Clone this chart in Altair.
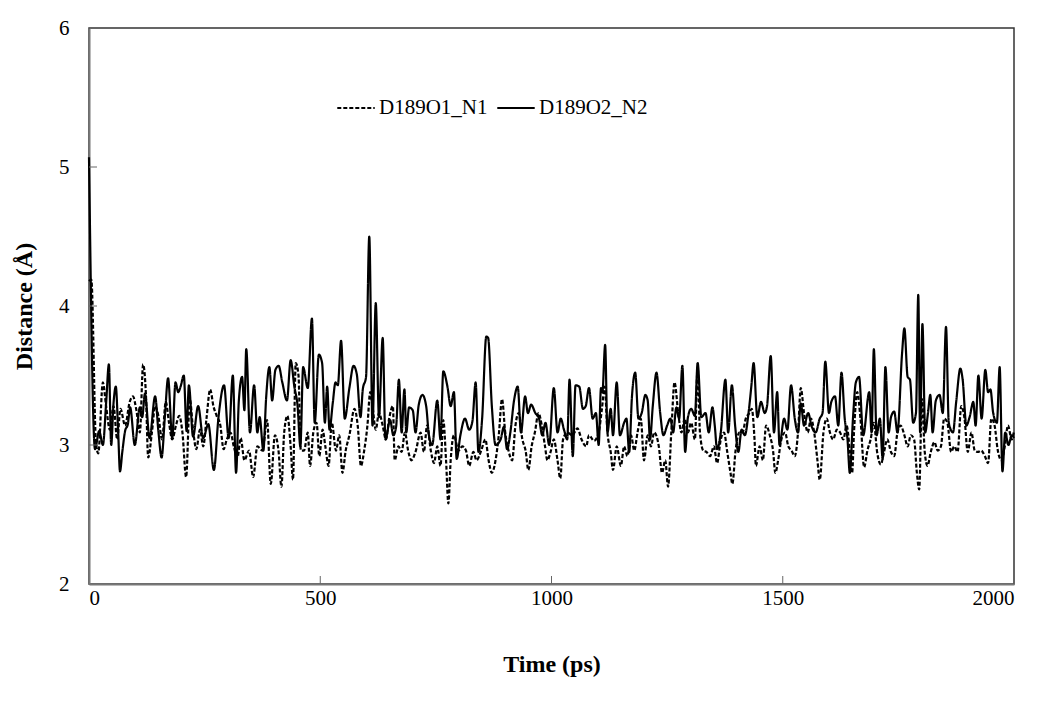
import altair as alt
import pandas as pd

series_names = ["D189O1_N1", "D189O2_N2"]

# D189O1_N1 (dashed)
t1 = [0, 5, 15, 20, 30, 37, 45, 53, 61, 68, 78, 88, 95, 102, 110, 117, 123, 128, 136, 143, 150, 158, 166, 173, 180, 188, 195, 202, 210, 218, 225, 232, 240, 247, 254, 262, 269, 276, 284, 291, 298, 306, 313, 321, 328, 336, 346, 355, 364, 375, 385, 393, 402, 410, 416, 422, 429, 436, 441, 447, 453, 458, 465, 473, 478, 485, 492, 498, 505, 511, 518, 525, 534, 541, 548, 555, 563, 574, 581, 588, 595, 602, 608, 613, 620, 627, 635, 642, 649, 657, 661, 669, 676, 683, 690, 697, 706, 717, 724, 731, 739, 746, 753, 760, 766, 772, 777, 782, 789, 799, 807, 815, 822, 831, 838, 848, 857, 864, 871, 879, 886, 893, 900, 907, 915, 922, 929, 937, 944, 950, 957, 964, 972, 979, 986, 991, 998, 1005, 1013, 1019, 1025, 1034, 1045, 1056, 1065, 1075, 1081, 1092, 1102, 1109, 1115, 1121, 1128, 1133, 1141, 1150, 1157, 1164, 1172, 1179, 1186, 1193, 1200, 1208, 1215, 1222, 1232, 1239, 1246, 1252, 1259, 1266, 1274, 1281, 1288, 1295, 1302, 1310, 1316, 1321, 1328, 1335, 1343, 1351, 1358, 1366, 1373, 1380, 1387, 1391, 1398, 1406, 1413, 1420, 1428, 1433, 1439, 1442, 1450, 1457, 1464, 1472, 1479, 1484, 1490, 1497, 1505, 1512, 1519, 1526, 1533, 1539, 1546, 1554, 1561, 1568, 1575, 1580, 1588, 1595, 1602, 1609, 1617, 1624, 1631, 1638, 1645, 1650, 1654, 1661, 1668, 1676, 1683, 1690, 1697, 1704, 1712, 1719, 1726, 1734, 1741, 1748, 1755, 1763, 1770, 1777, 1784, 1790, 1795, 1801, 1807, 1813, 1820, 1828, 1835, 1842, 1849, 1856, 1864, 1871, 1878, 1886, 1893, 1900, 1908, 1915, 1922, 1929, 1937, 1944, 1951, 1958, 1965, 1973, 1980, 1987, 1995, 2000]
d1 = [4.18, 4.19, 3.02, 2.94, 3.45, 3.28, 3.11, 3.28, 3.04, 3.26, 3.14, 3.31, 3.35, 3.26, 3.09, 3.58, 3.37, 2.91, 3.09, 3.28, 3.21, 3.04, 3.31, 3.16, 3.04, 3.14, 3.21, 3.09, 2.77, 3.33, 3.11, 2.97, 3.11, 2.99, 3.19, 3.40, 3.28, 3.21, 3.14, 2.97, 3.04, 3.09, 2.99, 2.91, 3.05, 2.89, 2.96, 2.77, 2.99, 2.96, 3.18, 2.72, 3.07, 2.95, 2.70, 3.09, 3.21, 2.99, 2.75, 3.59, 3.50, 2.96, 2.96, 3.09, 2.85, 3.09, 3.16, 2.92, 3.11, 2.99, 2.85, 3.16, 2.96, 3.07, 2.80, 2.96, 3.07, 3.26, 3.14, 2.85, 2.96, 3.14, 3.38, 3.28, 3.11, 3.23, 3.14, 3.04, 3.19, 3.28, 2.89, 2.99, 2.95, 3.09, 2.96, 2.89, 2.95, 3.09, 2.95, 3.14, 2.96, 2.87, 2.99, 2.85, 3.18, 2.89, 2.58, 2.89, 3.07, 2.96, 2.99, 2.96, 2.85, 2.95, 2.89, 2.96, 3.04, 2.89, 2.80, 2.89, 3.07, 3.33, 3.09, 2.96, 2.89, 3.14, 3.23, 3.04, 2.96, 2.82, 2.99, 3.09, 3.23, 3.14, 2.99, 2.89, 2.95, 3.04, 2.89, 2.76, 3.04, 3.09, 3.07, 3.12, 3.04, 2.99, 3.07, 3.03, 3.09, 3.26, 3.42, 3.09, 2.95, 2.82, 2.99, 2.85, 2.99, 2.92, 3.07, 2.96, 3.09, 3.19, 2.89, 3.07, 2.99, 3.09, 2.99, 2.80, 2.89, 2.70, 3.09, 3.45, 3.23, 3.09, 3.19, 3.09, 3.16, 3.04, 3.56, 3.09, 2.96, 2.95, 2.92, 2.99, 2.87, 3.04, 3.09, 2.95, 2.80, 2.72, 2.96, 3.09, 3.09, 3.19, 3.23, 3.26, 3.04, 2.85, 2.99, 2.89, 3.14, 3.07, 2.96, 2.80, 2.89, 3.04, 3.09, 2.99, 2.96, 2.92, 3.09, 3.41, 3.23, 3.09, 3.19, 3.09, 2.89, 2.75, 3.09, 3.19, 3.09, 3.04, 3.11, 3.09, 3.04, 3.14, 2.96, 2.80, 3.09, 3.38, 3.19, 2.84, 2.96, 3.04, 3.16, 2.95, 2.86, 2.95, 3.04, 2.95, 2.92, 3.09, 3.14, 3.07, 2.99, 3.07, 3.04, 2.80, 2.68, 3.33, 2.95, 2.85, 2.95, 3.02, 2.96, 2.99, 3.19, 3.16, 2.95, 2.99, 2.95, 3.28, 3.19, 2.95, 3.09, 2.96, 2.95, 2.96, 2.92, 2.87, 3.19, 3.14, 2.96, 2.89, 2.99, 3.14, 3.04, 3.10]

# D189O2_N2 (solid)
t2 = [0, 13, 22, 30, 37, 43, 48, 53, 58, 63, 67, 72, 78, 84, 89, 99, 110, 115, 121, 131, 143, 150, 157, 164, 171, 180, 187, 193, 198, 205, 211, 216, 225, 236, 247, 258, 270, 280, 292, 302, 311, 318, 324, 331, 336, 340, 348, 357, 364, 369, 377, 383, 390, 396, 403, 410, 418, 428, 436, 444, 451, 457, 463, 473, 482, 488, 497, 504, 510, 515, 520, 527, 533, 538, 545, 553, 563, 572, 579, 587, 592, 599, 606, 613, 620, 627, 635, 641, 651, 658, 664, 670, 676, 682, 686, 692, 700, 706, 713, 721, 729, 735, 742, 753, 760, 766, 775, 782, 789, 795, 803, 813, 822, 829, 836, 842, 850, 859, 863, 871, 879, 890, 897, 904, 911, 919, 927, 934, 943, 949, 956, 965, 973, 980, 987, 995, 1005, 1013, 1020, 1027, 1034, 1039, 1046, 1052, 1060, 1068, 1074, 1081, 1089, 1096, 1102, 1107, 1110, 1116, 1121, 1128, 1133, 1141, 1148, 1157, 1162, 1168, 1174, 1181, 1188, 1195, 1203, 1208, 1213, 1219, 1227, 1235, 1242, 1250, 1257, 1263, 1270, 1276, 1283, 1289, 1295, 1302, 1310, 1316, 1324, 1333, 1340, 1348, 1353, 1358, 1366, 1376, 1382, 1390, 1397, 1404, 1411, 1418, 1426, 1432, 1437, 1445, 1453, 1461, 1466, 1474, 1481, 1488, 1493, 1503, 1510, 1518, 1526, 1533, 1539, 1546, 1555, 1562, 1571, 1580, 1586, 1592, 1600, 1605, 1613, 1620, 1627, 1634, 1640, 1645, 1652, 1658, 1665, 1674, 1687, 1692, 1697, 1703, 1710, 1716, 1722, 1729, 1734, 1741, 1748, 1758, 1763, 1770, 1775, 1782, 1788, 1793, 1797, 1802, 1808, 1814, 1819, 1824, 1831, 1839, 1846, 1853, 1859, 1868, 1875, 1884, 1889, 1897, 1904, 1912, 1917, 1923, 1930, 1938, 1944, 1949, 1955, 1963, 1969, 1975, 1981, 1988, 1995, 2000]
d2 = [5.07, 2.97, 3.10, 3.00, 3.30, 3.58, 3.00, 3.30, 3.42, 3.10, 2.81, 2.95, 3.10, 3.15, 3.27, 3.00, 3.27, 3.20, 3.37, 3.05, 3.35, 3.10, 2.91, 3.20, 3.48, 3.05, 3.45, 3.38, 3.42, 3.50, 3.10, 3.43, 3.06, 3.28, 3.05, 3.15, 2.82, 3.20, 3.43, 3.05, 3.50, 2.80, 3.32, 3.49, 3.25, 3.69, 3.09, 3.43, 3.09, 3.20, 2.96, 3.34, 3.56, 3.32, 3.54, 3.57, 3.45, 3.32, 3.61, 3.42, 3.28, 2.99, 3.56, 3.41, 3.91, 3.16, 3.65, 3.59, 3.16, 3.42, 3.11, 3.30, 3.45, 3.43, 3.75, 3.19, 3.41, 3.57, 3.51, 3.20, 3.40, 3.49, 4.50, 3.14, 4.02, 3.20, 3.77, 3.04, 3.18, 3.07, 3.13, 3.47, 3.09, 3.40, 3.09, 3.27, 3.25, 3.09, 3.29, 3.36, 3.28, 3.07, 3.00, 3.32, 3.04, 3.53, 3.42, 3.28, 3.38, 2.90, 3.07, 3.19, 3.11, 3.17, 3.45, 2.95, 3.19, 3.78, 3.77, 3.28, 3.00, 3.04, 3.13, 2.97, 3.09, 3.32, 3.42, 3.09, 3.35, 3.23, 3.29, 3.23, 3.19, 3.07, 3.16, 3.00, 3.41, 3.09, 3.19, 3.11, 3.04, 3.47, 2.92, 3.43, 3.42, 3.26, 3.28, 3.41, 3.19, 3.23, 3.00, 3.41, 3.38, 3.72, 3.09, 3.26, 3.07, 3.45, 3.07, 3.16, 3.19, 2.95, 3.35, 3.52, 3.19, 3.23, 3.36, 3.32, 3.04, 3.28, 3.52, 3.23, 3.07, 3.14, 3.19, 3.09, 3.27, 3.19, 3.57, 2.95, 3.20, 3.26, 3.21, 3.59, 3.20, 3.23, 3.09, 3.27, 3.14, 2.97, 3.09, 3.47, 3.09, 3.43, 3.14, 2.95, 3.11, 3.07, 3.23, 3.42, 3.59, 3.20, 3.31, 3.23, 3.28, 3.64, 3.09, 3.38, 3.00, 3.19, 3.11, 3.43, 3.19, 3.09, 3.30, 3.14, 3.23, 3.14, 3.09, 3.19, 3.23, 3.60, 3.23, 3.31, 3.35, 3.14, 3.52, 3.19, 3.04, 2.80, 3.20, 3.45, 3.49, 3.07, 3.38, 3.09, 3.69, 3.07, 3.19, 2.90, 3.56, 3.09, 3.20, 3.24, 3.09, 3.66, 3.84, 3.49, 3.47, 3.16, 3.23, 4.08, 3.09, 3.87, 3.09, 3.23, 3.36, 3.09, 3.32, 3.36, 3.23, 3.85, 3.16, 3.09, 3.31, 3.55, 3.47, 3.14, 3.20, 3.31, 3.14, 3.50, 3.19, 3.54, 3.38, 3.40, 3.23, 3.16, 3.56, 2.81, 3.09, 3.00, 3.07, 3.05]

x_labels = [0, 500, 1000, 1500, 2000]
y_labels = [2, 3, 4, 5, 6]
x_ticks = [500, 1000, 1500]
y_ticks = [3, 4, 5]

df = pd.concat([
    pd.DataFrame({"Time": t1, "Distance": d1, "Series": series_names[0]}),
    pd.DataFrame({"Time": t2, "Distance": d2, "Series": series_names[1]}),
], ignore_index=True)

W, H = 925, 556
FONT = "Liberation Serif"

xscale = alt.Scale(domain=[0, 2000], nice=False, zero=False)
yscale = alt.Scale(domain=[2, 6], nice=False, zero=False)

x_axis = alt.Axis(values=x_labels, title="Time (ps)", ticks=False, grid=False,
                  labelPadding=3, titlePadding=44, format="d")
y_axis = alt.Axis(values=y_labels, title="Distance (Å)", ticks=False, grid=False,
                  labelPadding=20, titlePadding=22, format="d")

lines = alt.Chart(df).mark_line(color="black", strokeWidth=2.2, interpolate="monotone").encode(
    x=alt.X("Time:Q", scale=xscale, axis=x_axis),
    y=alt.Y("Distance:Q", scale=yscale, axis=y_axis),
    strokeDash=alt.StrokeDash("Series:N",
                              scale=alt.Scale(domain=series_names, range=[[4, 2], [1, 0]]),
                              legend=alt.Legend(title=None, orient="none", legendX=247, legendY=60,
                                                direction="horizontal", symbolType="stroke",
                                                symbolSize=1400, symbolStrokeWidth=2,
                                                symbolStrokeColor="black",
                                                labelFont=FONT, labelFontSize=21, labelColor="black",
                                                labelOffset=3, columnPadding=5, labelLimit=300)),
)

xt = alt.Chart(pd.DataFrame({"Time": x_ticks})).mark_rule(color="#666", strokeWidth=1).encode(
    x=alt.X("Time:Q", scale=xscale, axis=x_axis), y=alt.value(H), y2=alt.value(H - 8))
yt = alt.Chart(pd.DataFrame({"Distance": y_ticks})).mark_rule(color="#666", strokeWidth=1).encode(
    y=alt.Y("Distance:Q", scale=yscale, axis=y_axis), x=alt.value(0), x2=alt.value(8))

chart = alt.layer(lines, xt, yt).properties(
    width=W, height=H,
    padding={"left": 4, "top": 9, "right": 20, "bottom": 5},
    background="white",
).configure_axis(
    labelFont=FONT, labelFontSize=21, labelColor="black",
    titleFont=FONT, titleFontSize=24, titleFontWeight="bold", titleColor="black",
    domainColor="#777", domainWidth=2,
).configure_view(stroke="#333", strokeWidth=1.5)

chart.save("out.html", embed_options={"renderer": "svg", "actions": False})
